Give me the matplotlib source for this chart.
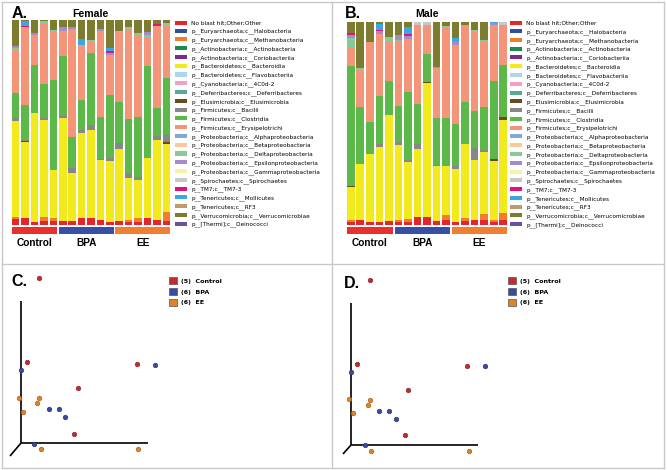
import numpy as np
import matplotlib
matplotlib.use("Agg")
import matplotlib.pyplot as plt
from matplotlib.patches import Patch
from matplotlib.lines import Line2D

# -----------------------------
# Taxa (legend order = stacking order, bottom -> top)
# -----------------------------
taxa = [
    "No blast hit;Other;Other",
    "p__Euryarchaeota;c__Halobacteria",
    "p__Euryarchaeota;c__Methanobacteria",
    "p__Actinobacteria;c__Actinobacteria",
    "p__Actinobacteria;c__Coriobacteriia",
    "p__Bacteroidetes;c__Bacteroidia",
    "p__Bacteroidetes;c__Flavobacteriia",
    "p__Cyanobacteria;c__4C0d-2",
    "p__Deferribacteres;c__Deferribacteres",
    "p__Elusimicrobia;c__Elusimicrobia",
    "p__Firmicutes;c__Bacilli",
    "p__Firmicutes;c__Clostridia",
    "p__Firmicutes;c__Erysipelotrichi",
    "p__Proteobacteria;c__Alphaproteobacteria",
    "p__Proteobacteria;c__Betaproteobacteria",
    "p__Proteobacteria;c__Deltaproteobacteria",
    "p__Proteobacteria;c__Epsilonproteobacteria",
    "p__Proteobacteria;c__Gammaproteobacteria",
    "p__Spirochaetes;c__Spirochaetes",
    "p__TM7;c__TM7-3",
    "p__Tenericutes;c__Mollicutes",
    "p__Tenericutes;c__RF3",
    "p__Verrucomicrobia;c__Verrucomicrobiae",
    "p__[Thermi];c__Deinococci",
]
taxa_colors = [
    "#e3262b", "#2f4f9f", "#ef7d2b", "#1b8a4b", "#7d2a8c", "#f2ea1d",
    "#a9d9e9", "#f2a0c8", "#5aa89a", "#6b4a1e", "#878787", "#5db84a",
    "#f4957a", "#80a8d8", "#f8c99c", "#86cb98", "#a68bc8", "#f7f3a6",
    "#c8c8c8", "#e0127c", "#3aa8e0", "#c09a6a", "#7d7b2e", "#6a50a0",
]

groups = ["Control", "BPA", "EE"]
group_n = [5, 6, 6]
group_colors = ["#e8302e", "#3650a8", "#f08030"]

# -----------------------------
# Female relative abundance (%), 17 samples
# -----------------------------
fem_noblast = [2.8, 3.3, 1.6, 2.0, 2.0, 2.0, 2.0, 3.3, 3.3, 2.4, 1.6, 2.0, 1.6, 1.6, 3.3, 2.4, 2.0]
fem_methano = [1.1, 0, 0, 2.1, 1.3, 0, 0, 0, 0, 0, 0, 0, 0.8, 1.6, 0, 0, 4.4]
fem_bacteroidia = [46.9, 37.3, 52.8, 47.1, 23.5, 50.2, 23.6, 41.7, 43.0, 29.2, 29.6, 34.9, 20.7, 18.6, 29.3, 38.9, 33.0]
fem_elusimicrobia = [0, 0.5, 0, 0, 0, 0, 0, 0, 0, 0, 0, 0, 0, 0, 0, 0, 1.1]
fem_bacilli = [1.3, 0.6, 0, 1.0, 0, 1.1, 2.4, 1.3, 2.4, 0.5, 1.3, 2.9, 2.3, 1.6, 0, 2.0, 3.4]
fem_clostridia = [12.2, 16.8, 23.6, 16.4, 43.8, 29.0, 15.0, 14.7, 35.2, 20.7, 30.9, 20.2, 26.1, 29.2, 44.8, 13.7, 28.0]
fem_erysipelo = [21.5, 37.9, 14.8, 29.5, 23.9, 12.2, 52.6, 26.2, 5.2, 42.0, 19.5, 34.0, 44.1, 40.2, 13.8, 40.2, 25.2]
fem_delta = [0.6, 0, 0, 1.3, 0.7, 0, 0, 0.8, 1.1, 0, 0, 0.5, 0.8, 1.1, 1.4, 0, 1.6]
fem_epsilon = [1.0, 0, 1.1, 0, 0, 2.3, 0.8, 0, 0, 0.8, 1.0, 0, 0, 0, 1.4, 0, 0]
fem_tm7 = [0, 0.6, 0, 0, 0, 0, 0, 0, 0, 0, 1.0, 0, 0, 0, 0, 0.8, 0]
fem_mollicutes = [0, 2.5, 0, 0, 0, 0, 0, 2.8, 0, 0, 1.6, 0, 0, 0, 0, 0, 0]
fem_verruco = [12.6, 0.5, 6.0, 0.6, 4.9, 3.3, 3.6, 9.3, 9.8, 4.4, 13.4, 5.5, 3.6, 6.0, 6.0, 2.0, 1.1]

# -----------------------------
# Male relative abundance (%), 17 samples
# -----------------------------
mal_noblast = [1.6, 2.5, 1.6, 1.6, 2.0, 1.6, 1.6, 3.8, 4.1, 2.0, 2.5, 1.6, 2.0, 2.5, 2.5, 1.6, 2.5]
mal_methano = [0.7, 0, 0, 0, 0, 0.8, 1.3, 0, 0, 0, 2.5, 0, 1.3, 0, 2.8, 0.8, 3.3]
mal_bacteroidia = [16.2, 27.5, 33.3, 37.0, 52.1, 37.2, 28.2, 33.6, 65.9, 27.0, 24.3, 26.2, 36.7, 29.5, 30.8, 29.0, 45.9]
mal_elusimicrobia = [0.8, 0, 0, 0, 0, 0, 0, 0, 0.5, 0, 0, 0, 0, 0, 0, 1.0, 1.6]
mal_bacilli = [0, 0, 0, 1.1, 0, 1.3, 0.7, 2.5, 0, 0.8, 0, 1.3, 0, 5.7, 1.0, 0, 0]
mal_clostridia = [59.0, 28.2, 15.9, 23.8, 17.0, 17.7, 33.8, 19.7, 13.9, 23.0, 23.6, 20.5, 20.7, 18.5, 21.1, 38.4, 25.4]
mal_erysipelo = [9.3, 18.0, 39.3, 30.7, 19.3, 31.8, 25.9, 38.9, 14.3, 24.3, 44.4, 39.2, 37.7, 38.9, 32.3, 27.9, 19.7]
mal_delta = [4.4, 1.1, 0, 0, 2.1, 0.7, 0, 0, 0, 0, 0.8, 0, 0, 0.8, 0.8, 0, 0]
mal_epsilon = [1.8, 0, 0, 1.5, 0, 2.6, 1.6, 0, 0, 0.8, 0, 1.3, 0, 0, 0, 0.7, 0]
mal_spiro = [0, 0, 0, 0, 0, 0, 0, 1.6, 1.3, 0, 0, 0, 0, 0, 0, 0, 1.6]
mal_tm7 = [0.8, 0, 0, 0.5, 0, 0, 1.0, 0, 0, 0, 0, 0, 0, 0, 0, 0, 0]
mal_mollicutes = [0, 0, 0, 3.0, 0, 0, 3.4, 0, 0, 0, 0, 2.0, 0, 0, 0, 0.6, 0]
mal_verruco = [5.2, 22.6, 9.8, 0.8, 7.4, 6.2, 2.5, 0, 0, 22.1, 2.0, 7.9, 1.6, 4.1, 8.7, 0, 0]

# -----------------------------
# PCoA coordinates (arbitrary units, origin at the axes corner)
# -----------------------------
c_ctrl_x = [18, 6, 116, 57, 53]
c_ctrl_y = [165, 81, 79, 55, 9]
c_bpa_x = [0, 134, 28, 38, 44, 13]
c_bpa_y = [73, 78, 34, 34, 26, -1]
c_ee_x = [-2, 18, 16, 2, 20, 117]
c_ee_y = [45, 45, 40, 31, -6, -6]

d_ctrl_x = [19, 6, 116, 57, 54]
d_ctrl_y = [165, 81, 79, 55, 10]
d_bpa_x = [0, 134, 28, 38, 45, 14]
d_bpa_y = [73, 79, 34, 34, 26, 0]
d_ee_x = [-2, 19, 17, 2, 20, 118]
d_ee_y = [46, 45, 40, 32, -6, -6]

pcoa_labels = ["(5)  Control", "(6)  BPA", "(6)  EE"]
pcoa_colors = ["#c62a2e", "#3a4aa0", "#e0822a"]
pcoa_edges = ["#8a1a1a", "#242f6a", "#9a5518"]

W, H = 667, 470
fig = plt.figure(figsize=(W / 100, H / 100), dpi=100)


def rect(x0, y0, x1, y1):
    # pixel box (top-left origin) -> figure fraction rect
    return [x0 / W, 1 - y1 / H, (x1 - x0) / W, (y1 - y0) / H]


def stacked_panel(box, series, legend_xy):
    ax = fig.add_axes(rect(*box))
    n = len(series["noblast"])
    x = np.arange(n)
    keys = {0: "noblast", 2: "methano", 5: "bacteroidia", 9: "elusimicrobia",
            10: "bacilli", 11: "clostridia", 12: "erysipelo", 15: "delta",
            16: "epsilon", 18: "spiro", 19: "tm7", 20: "mollicutes", 22: "verruco"}
    bottom = np.zeros(n)
    for i, name in enumerate(taxa):
        vals = np.array(series.get(keys.get(i, ""), np.zeros(n)), dtype=float)
        ax.bar(x, vals, bottom=bottom, width=0.8, color=taxa_colors[i],
               edgecolor="none", label=name)
        bottom += vals
    ax.set_xlim(-0.5, n - 0.5)
    ax.set_ylim(0, 100)
    ax.axis("off")

    # treatment strip
    sax = fig.add_axes(rect(box[0], 227, box[2], 234))
    start = 0
    for g, k, c in zip(groups, group_n, group_colors):
        sax.barh(0, k - 0.2, left=start - 0.4, height=1, color=c, edgecolor="none")
        sax.text(start + (k - 1) / 2, -1.75, g, ha="center", va="center",
                 fontsize=7.3, fontweight="bold", family="Liberation Sans")
        start += k
    sax.set_xlim(-0.5, n - 0.5)
    sax.set_ylim(-0.5, 0.5)
    sax.axis("off")

    fig.legend(*ax.get_legend_handles_labels(), loc="upper left",
               bbox_to_anchor=(legend_xy[0] / W, 1 - legend_xy[1] / H),
               frameon=False, fontsize=4.15, handlelength=2.0, handleheight=0.7,
               labelspacing=0.53, handletextpad=0.8, borderpad=0, borderaxespad=0)
    return ax


female = dict(noblast=fem_noblast, methano=fem_methano, bacteroidia=fem_bacteroidia,
              elusimicrobia=fem_elusimicrobia, bacilli=fem_bacilli, clostridia=fem_clostridia,
              erysipelo=fem_erysipelo, delta=fem_delta, epsilon=fem_epsilon, tm7=fem_tm7,
              mollicutes=fem_mollicutes, verruco=fem_verruco)
male = dict(noblast=mal_noblast, methano=mal_methano, bacteroidia=mal_bacteroidia,
            elusimicrobia=mal_elusimicrobia, bacilli=mal_bacilli, clostridia=mal_clostridia,
            erysipelo=mal_erysipelo, delta=mal_delta, epsilon=mal_epsilon, spiro=mal_spiro,
            tm7=mal_tm7, mollicutes=mal_mollicutes, verruco=mal_verruco)

stacked_panel((11, 20, 171, 225), female, (175, 20.5))
stacked_panel((346, 22, 508, 225), male, (510, 21))


def pcoa_panel(box, origin, axes_len, diag, pts, legend_xy):
    ax = fig.add_axes(rect(*box))
    ox, oy = origin
    ax.set_xlim(box[0] - ox, box[2] - ox)
    ax.set_ylim(oy - box[3], oy - box[1])
    ax.plot([0, 0], [0, axes_len[1]], color="black", lw=1.2, solid_capstyle="butt")
    ax.plot([0, axes_len[0]], [0, 0], color="black", lw=1.2, solid_capstyle="butt")
    ax.plot([0, diag[0]], [0, diag[1]], color="black", lw=1.2, solid_capstyle="butt")
    for (px, py), c, e in zip(pts, pcoa_colors, pcoa_edges):
        ax.scatter(px, py, s=11, color=c, edgecolors=e, linewidths=0.4, zorder=3)
    ax.axis("off")
    handles = [Patch(facecolor=c, edgecolor="#555555", linewidth=0.5) for c in pcoa_colors]
    fig.legend(handles, pcoa_labels, loc="upper left",
               bbox_to_anchor=(legend_xy[0] / W, 1 - legend_xy[1] / H),
               frameon=False, prop={"size": 4.6, "weight": "bold"},
               handlelength=1.3, handleheight=1.3, labelspacing=0.62,
               handletextpad=0.6, borderpad=0, borderaxespad=0)


pcoa_panel((5, 270, 170, 462), (21, 443), (127, 142), (-11, -13),
           [(c_ctrl_x, c_ctrl_y), (c_bpa_x, c_bpa_y), (c_ee_x, c_ee_y)], (169, 277))
pcoa_panel((335, 270, 500, 462), (351, 445), (127, 142), (-8, -9),
           [(d_ctrl_x, d_ctrl_y), (d_bpa_x, d_bpa_y), (d_ee_x, d_ee_y)], (508, 277))

# panel letters and titles
for lab, px, py in [("A.", 12, 14), ("B.", 345, 14), ("C.", 11, 281), ("D.", 344, 283.5)]:
    fig.text(px / W, 1 - py / H, lab, fontsize=11.5, fontweight="bold",
             family="Liberation Sans", va="center", ha="left")
fig.text(90 / W, 1 - 14 / H, "Female", fontsize=7.6, fontweight="bold",
         family="Liberation Sans", ha="center", va="center")
fig.text(427 / W, 1 - 14 / H, "Male", fontsize=7.6, fontweight="bold",
         family="Liberation Sans", ha="center", va="center")

# grey frame around the four panels
frame = "#c8c8c8"
for xs, ys in [([2, 664], [2, 2]), ([2, 664], [468, 468]), ([2, 2], [2, 468]),
               ([664, 664], [2, 468]), ([2, 664], [264, 264]), ([332, 332], [2, 468])]:
    fig.add_artist(Line2D([x / W for x in xs], [1 - y / H for y in ys],
                          color=frame, lw=1.0))

fig.savefig("out.png", dpi=100)
